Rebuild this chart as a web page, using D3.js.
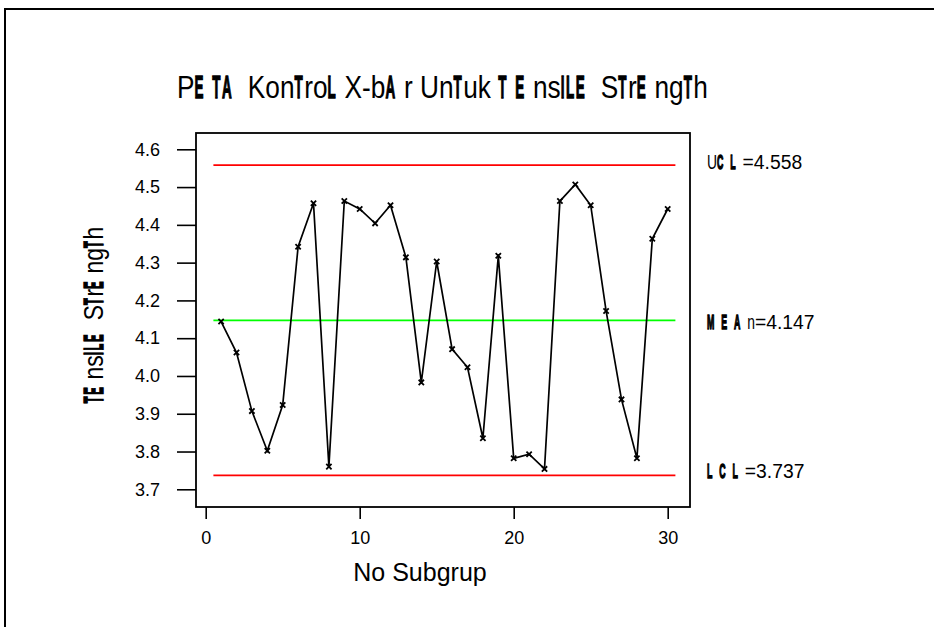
<!DOCTYPE html>
<html>
<head>
<meta charset="utf-8">
<script src="https://cdn.jsdelivr.net/npm/d3@7"></script>
<style>
  body { margin: 0; background: #fff; }
  svg { display: block; }
  text { font-family: "Liberation Sans", Arial, sans-serif; fill: #000; }
</style>
</head>
<body>
<svg id="chart" width="934" height="627"></svg>
<script>
// subgroup means
const subgroups = d3.range(1, 31);
const means = [
  4.144, 4.062, 3.907, 3.802, 3.923, 4.342, 4.457, 3.760, 4.463, 4.442,
  4.404, 4.452, 4.314, 3.983, 4.303, 4.071, 4.023, 3.835, 4.318, 3.782,
  3.793, 3.754, 4.463, 4.507, 4.452, 4.172, 3.938, 3.782, 4.363, 4.442
];
const ucl = 4.558, centre = 4.147, lcl = 3.737;
const yTicks = [3.7, 3.8, 3.9, 4.0, 4.1, 4.2, 4.3, 4.4, 4.5, 4.6];
const xTicks = [0, 10, 20, 30];

const titleText = "PE TA  KonTroL X-bA r UnTuk T E nsILE  STrE ngTh";
const yLabelText = "TE nsILE  STrE ngTh";
const xLabelText = "No Subgrup";
const limitLabels = ["UC L =4.558", "M E A n=4.147", "L C L =3.737"];

// uppercase letters that come out squashed and bold in the original
const squashed = new Set(["E", "T", "A", "L", "I", "M", "C"]);

const svg = d3.select("#chart");

// outer border (only top and left show)
svg.append("path")
  .attr("d", "M5,627 V9 H934")
  .attr("fill", "none")
  .attr("stroke", "#000")
  .attr("stroke-width", 2);

const frame = { left: 196, top: 133, right: 690, bottom: 507 };

const x = d3.scaleLinear().domain([0, 30]).range([205.7, 667.7]);
const y = d3.scaleLinear().domain([3.7, 4.6]).range([489.3, 149.3]);

// write a string char by char; odd glyphs squashed and bold,
// letters narrowed by letterS, everything else by otherS
function mixedText(g, str, size, letterS, otherS) {
  let cx = 0;
  for (const ch of str) {
    const odd = squashed.has(ch);
    const s = odd ? 0.42 : /[a-zA-Z]/.test(ch) ? letterS : otherS;
    const t = g.append("text")
      .attr("font-size", size)
      .attr("font-weight", odd ? "bold" : null)
      .attr("stroke", odd ? "#000" : null)
      .attr("stroke-width", odd ? 1.4 : null)
      .attr("transform", `translate(${cx},0) scale(${s},1)`)
      .style("white-space", "pre")
      .text(ch);
    cx += t.node().getComputedTextLength() * s + (odd ? 1.5 : 0);
  }
  return cx;
}

// title
const title = svg.append("g").attr("transform", "translate(177,98)");
mixedText(title, titleText, 32, 0.82, 0.82);

// axes
const yAxis = svg.append("g")
  .attr("transform", `translate(${frame.left},0)`)
  .call(d3.axisLeft(y).tickValues(yTicks).tickFormat(d3.format(".1f"))
    .tickSize(19).tickPadding(17));
const xAxis = svg.append("g")
  .attr("transform", `translate(0,${frame.bottom})`)
  .call(d3.axisBottom(x).tickValues(xTicks).tickSize(12).tickPadding(12));

[yAxis, xAxis].forEach(a => {
  a.select(".domain").remove();
  a.selectAll("line").attr("stroke-width", 1.6);
  a.selectAll("text").attr("font-size", 18).attr("font-family", null);
});

// frame
svg.append("rect")
  .attr("x", frame.left)
  .attr("y", frame.top)
  .attr("width", frame.right - frame.left)
  .attr("height", frame.bottom - frame.top)
  .attr("fill", "none")
  .attr("stroke", "#000")
  .attr("stroke-width", 1.8);

// control limits
const limits = [
  { v: ucl, c: "#ff0000" },
  { v: centre, c: "#00ff00" },
  { v: lcl, c: "#ff0000" }
];
svg.selectAll(".limit")
  .data(limits)
  .enter()
  .append("line")
  .attr("class", "limit")
  .attr("x1", x(0.5))
  .attr("x2", x(30.5))
  .attr("y1", d => y(d.v))
  .attr("y2", d => y(d.v))
  .attr("stroke", d => d.c)
  .attr("stroke-width", 1.8);

// limit labels
const labelShift = [4, 8.5, 3];
limits.forEach((d, i) => {
  const g = svg.append("g").attr("transform", `translate(707,${y(d.v) + labelShift[i]})`);
  mixedText(g, limitLabels[i], 21, 0.66, 0.92);
});

// data line
const line = d3.line()
  .x((d, i) => x(subgroups[i]))
  .y(d => y(d));

svg.append("path")
  .datum(means)
  .attr("d", line)
  .attr("fill", "none")
  .attr("stroke", "#000")
  .attr("stroke-width", 1.7);

svg.selectAll(".pt")
  .data(means)
  .enter()
  .append("path")
  .attr("class", "pt")
  .attr("transform", (d, i) => `translate(${x(subgroups[i])},${y(d)})`)
  .attr("d", d3.symbol(d3.symbolX, 20))
  .attr("fill", "none")
  .attr("stroke", "#000")
  .attr("stroke-width", 1.8);

// axis labels
svg.append("text")
  .attr("x", 420)
  .attr("y", 581)
  .attr("text-anchor", "middle")
  .attr("font-size", 25)
  .text(xLabelText);

const yl = svg.append("g");
const yw = mixedText(yl, yLabelText, 27, 0.85, 0.85);
yl.attr("transform", `translate(103,${315 + yw / 2}) rotate(-90)`);
</script>
</body>
</html>
